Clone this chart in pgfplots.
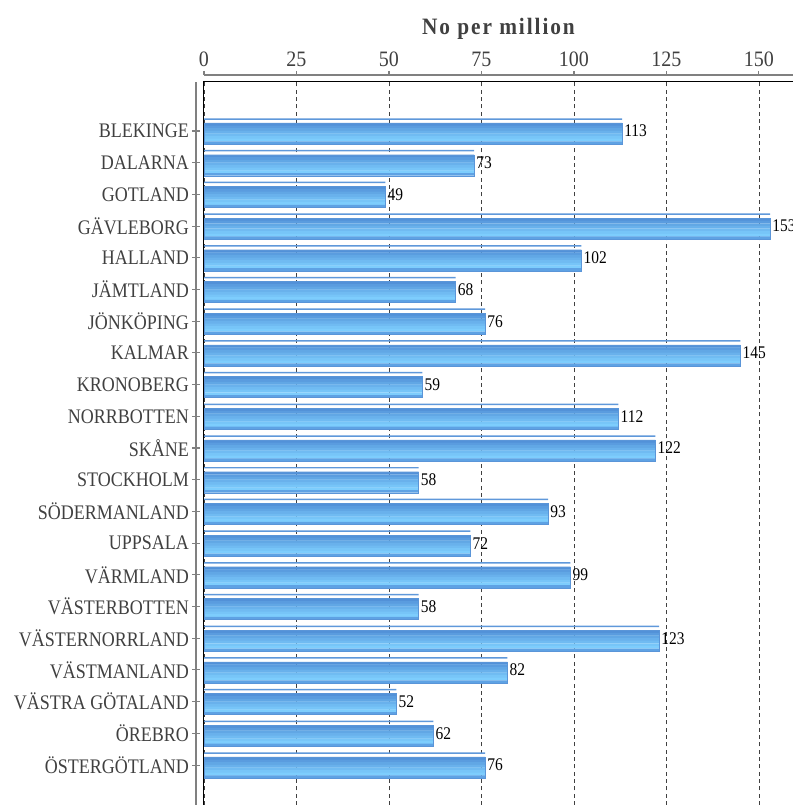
\documentclass[border=0pt]{standalone}
\usepackage{pgfplots}
\usepackage{pgfplotstable}
\pgfplotsset{compat=1.18}
\usepackage{fontspec}
\setmainfont{Liberation Serif}
\definecolor{txt}{HTML}{404040}
\definecolor{barA}{HTML}{5291D8}
\definecolor{barB}{HTML}{7DCDFD}
\definecolor{barE}{HTML}{5A95D8}
\definecolor{barT}{HTML}{5F98DA}
\definecolor{barD}{HTML}{5EA2E4}
\definecolor{axgray}{HTML}{808080}

\pgfplotstableread{
y v
20 113
19 73
18 49
17 153
16 102
15 68
14 76
13 145
12 59
11 112
10 122
9 58
8 93
7 72
6 99
5 58
4 123
3 82
2 52
1 62
0 76
}\data

\begin{document}
\begin{tikzpicture}
\begin{axis}[
  scale only axis, width=441.75pt, height=542.25pt,
  xmin=0, xmax=159.2, ymin=-1.26, ymax=21.546,
  axis x line*=top, axis y line*=left,
  axis line style={-},
  x axis line style={axgray, line width=1.5pt, yshift=5.25pt},
  y axis line style={axgray, line width=1.5pt, xshift=-6pt},
  xtick={0,25,...,150},
  xtick align=outside,
  x tick style={axgray, line width=0.8pt, yshift=5.25pt, /pgfplots/major tick length=3pt},
  ytick={0,...,20},
  ytick align=center,
  y tick style={axgray, line width=0.8pt, xshift=-6pt, /pgfplots/major tick length=6pt},
  yticklabels={ÖSTERGÖTLAND,ÖREBRO,VÄSTRA GÖTALAND,VÄSTMANLAND,VÄSTERNORRLAND,VÄSTERBOTTEN,VÄRMLAND,UPPSALA,SÖDERMANLAND,STOCKHOLM,SKÅNE,NORRBOTTEN,KRONOBERG,KALMAR,JÖNKÖPING,JÄMTLAND,HALLAND,GÄVLEBORG,GOTLAND,DALARNA,BLEKINGE},
  /pgf/number format/assume math mode=true,
  xticklabel style={font=\fontsize{15}{17}\selectfont, text=txt, anchor=base, yshift=7pt, yscale=1.1},
  yticklabel style={font=\fontsize{13.5}{15}\selectfont, text=txt, anchor=east, inner sep=0pt, xshift=-9pt, yscale=1.15},
  xmajorgrids,
  major grid style={dash pattern=on 3pt off 2.5pt, color=black!75, line width=0.5pt},
  clip=false,
]
% body of each bar: stripes from top (darker) to bottom (lighter)
\addplot[xbar, bar width=0.09, bar shift=0.2106, draw=none, fill=barA] table[x=v,y=y]{\data};
\addplot[xbar, bar width=0.09, bar shift=0.1279, draw=none, fill=barB!18!barA] table[x=v,y=y]{\data};
\addplot[xbar, bar width=0.09, bar shift=0.0451, draw=none, fill=barB!36!barA] table[x=v,y=y]{\data};
\addplot[xbar, bar width=0.09, bar shift=-0.0376, draw=none, fill=barB!54!barA] table[x=v,y=y]{\data};
\addplot[xbar, bar width=0.09, bar shift=-0.1204, draw=none, fill=barB!70!barA] table[x=v,y=y]{\data};
\addplot[xbar, bar width=0.09, bar shift=-0.2031, draw=none, fill=barB!86!barA] table[x=v,y=y]{\data};
\addplot[xbar, bar width=0.09, bar shift=-0.2859, draw=none, fill=barB] table[x=v,y=y]{\data};
\addplot[xbar, bar width=0.0827, bar shift=-0.3686, draw=none, fill=barD] table[x=v,y=y]{\data};
% outline of body
\addplot[xbar, bar width=0.662, bar shift=-0.079, draw=barE, line width=0.3pt, fill=none] table[x=v,y=y]{\data};
% thin top strip
\addplot[xbar, bar width=0.047, bar shift=0.378, draw=none, fill=barT] table[x=v,y=y]{\data};
% value labels
\addplot[xbar, bar width=0.5, bar shift=0, draw=none, fill=none,
  nodes near coords, point meta=x,
  nodes near coords style={anchor=west, inner sep=1.5pt, black, font=\fontsize{11.6}{13}\selectfont, yscale=1.15, /pgf/number format/assume math mode=true}] table[x=v,y=y]{\data};
\draw[black, line width=0.75pt] (axis description cs:0,0) -- (axis description cs:0,1) -- (axis description cs:1,1);
\node[font=\fontsize{16}{18}\selectfont\bfseries\addfontfeatures{LetterSpace=9}, text=txt, yscale=1.1] at (axis description cs:0.5,1) [yshift=36pt] {No per million};
\coordinate (tl) at (axis description cs:0,1);
\coordinate (br) at (axis description cs:1,0);
\end{axis}
\pgfresetboundingbox
\path ([shift={(-153pt,61.5pt)}]tl) rectangle (br);
\end{tikzpicture}
\end{document}
